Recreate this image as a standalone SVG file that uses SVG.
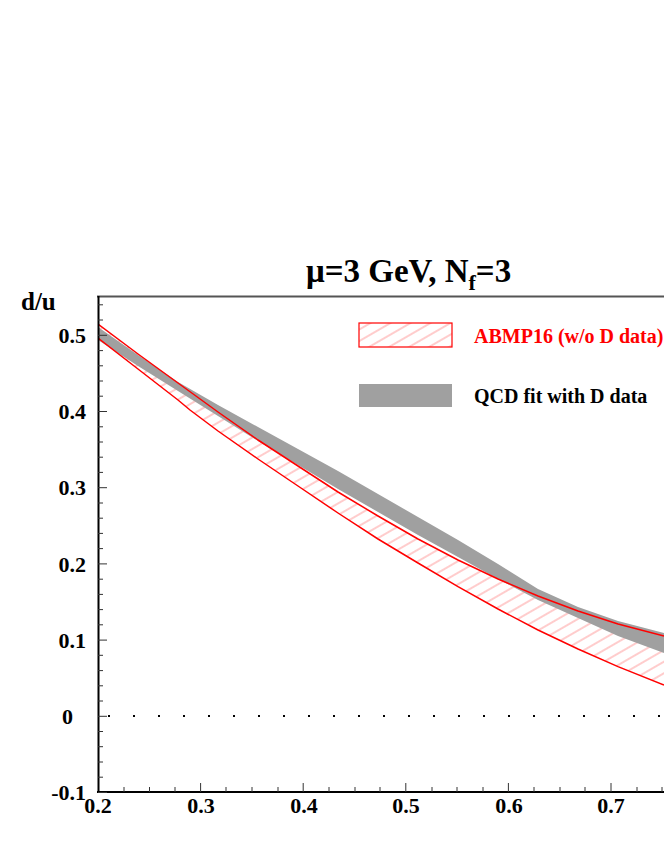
<svg xmlns="http://www.w3.org/2000/svg" width="664" height="860" viewBox="0 0 664 860">
<style>
.t{font-family:"Liberation Serif",serif;font-weight:bold;fill:#000}
.tk{stroke:#333;stroke-width:1}
</style>
<defs>
<pattern id="h" width="10" height="10" patternUnits="userSpaceOnUse" patternTransform="rotate(-30)">
<line x1="0" y1="5" x2="10" y2="5" stroke="#ff8080" stroke-width="0.8"/>
</pattern>
<clipPath id="pc"><rect x="98" y="296" width="566" height="496"/></clipPath>
</defs>
<rect width="664" height="860" fill="#fff"/>
<text class="t" x="306" y="282" font-size="33">μ=3 GeV, N<tspan font-size="22" dy="8">f</tspan><tspan dy="-8">=3</tspan></text>
<text class="t" x="21" y="310" font-size="25">d/u</text>
<g id="bands" clip-path="url(#pc)">
<path d="M98,324 L138,354 L178,383 L218,412 L258,440 L298,466 L338,492 L378,516 L418,539 L458,560 L498,579 L538,596 L578,611 L618,624 L664,636 L664,685 L618,666.6 L578,649 L538,630 L498,609 L458,586.6 L418,563 L378,539 L338,513 L298,486 L258,459 L218,431 L190,410 L178,400 L138,369 L98,338 Z" fill="url(#h)"/>
<path d="M98,327 L138,355 L178,382 L218,405 L258,427 L298,449 L338,471 L378,494 L418,517 L458,540 L498,564 L538,589 L578,607 L618,621 L664,633 L664,653 L618,636 L578,618 L538,600 L498,579 L458,557 L418,535 L378,512 L338,489 L298,465 L258,441 L218,416 L178,391 L138,366 L98,340 Z" fill="#a0a0a0"/>
<path d="M98,324 L138,354 L178,383 L218,412 L258,440 L298,466 L338,492 L378,516 L418,539 L458,560 L498,579 L538,596 L578,611 L618,624 L664,636" fill="none" stroke="#f00" stroke-width="1.5" stroke-linejoin="round"/>
<path d="M98,338 L138,369 L178,400 L190,410 L218,431 L258,459 L298,486 L338,513 L378,539 L418,563 L458,586.6 L498,609 L538,630 L578,649 L618,666.6 L664,685" fill="none" stroke="#f00" stroke-width="1.5" stroke-linejoin="round"/>
</g>
<g id="zero">
<line x1="108" y1="716" x2="664" y2="716" stroke="#000" stroke-width="2" stroke-dasharray="2 23"/>
</g>
<g id="axes">
<line x1="97" y1="296.5" x2="664" y2="296.5" stroke="#555" stroke-width="2"/>
<line x1="98.5" y1="296" x2="98.5" y2="793" stroke="#000" stroke-width="2"/>
<line x1="97" y1="792" x2="664" y2="792" stroke="#000" stroke-width="2"/>
<path class="tk" d="M98,792.5h9M98,716.3h9M98,640.1h9M98,563.9h9M98,487.7h9M98,411.5h9M98,335.3h9
M98,777.2h5M98,762h5M98,746.7h5M98,731.5h5M98,701h5M98,685.8h5M98,670.6h5M98,655.3h5M98,624.8h5M98,609.6h5M98,594.4h5M98,579.2h5M98,548.6h5M98,533.4h5M98,518.2h5M98,503h5M98,472.4h5M98,457.2h5M98,442h5M98,426.8h5M98,396.2h5M98,381h5M98,365.8h5M98,350.6h5M98,320h5M98,304.8h5
M200.6,792v-9M303.2,792v-9M405.8,792v-9M508.4,792v-9M611,792v-9
M124,792v-5M149.5,792v-5M175,792v-5M226,792v-5M252,792v-5M278,792v-5M329,792v-5M355,792v-5M380,792v-5M432,792v-5M457,792v-5M483,792v-5M534,792v-5M560,792v-5M585,792v-5M637,792v-5M662,792v-5"/>
</g>
<g id="ylabels" class="t" font-size="22" text-anchor="end">
<text x="86" y="343">0.5</text>
<text x="86" y="419">0.4</text>
<text x="86" y="495">0.3</text>
<text x="86" y="572">0.2</text>
<text x="86" y="648">0.1</text>
<text x="73" y="724">0</text>
<text x="86" y="800">-0.1</text>
</g>
<g id="xlabels" class="t" font-size="22" text-anchor="middle">
<text x="98" y="813">0.2</text>
<text x="201" y="813">0.3</text>
<text x="304" y="813">0.4</text>
<text x="406" y="813">0.5</text>
<text x="509" y="813">0.6</text>
<text x="611" y="813">0.7</text>
</g>
<g id="legend">
<rect x="359" y="323" width="93" height="24" fill="url(#h)" stroke="#f00" stroke-width="1.2"/>
<text class="t" x="474" y="343" font-size="20" style="fill:#f00">ABMP16 (w/o D data)</text>
<rect x="359" y="384" width="93" height="23" fill="#a0a0a0"/>
<text class="t" x="474" y="403" font-size="20">QCD fit with D data</text>
</g>
</svg>
